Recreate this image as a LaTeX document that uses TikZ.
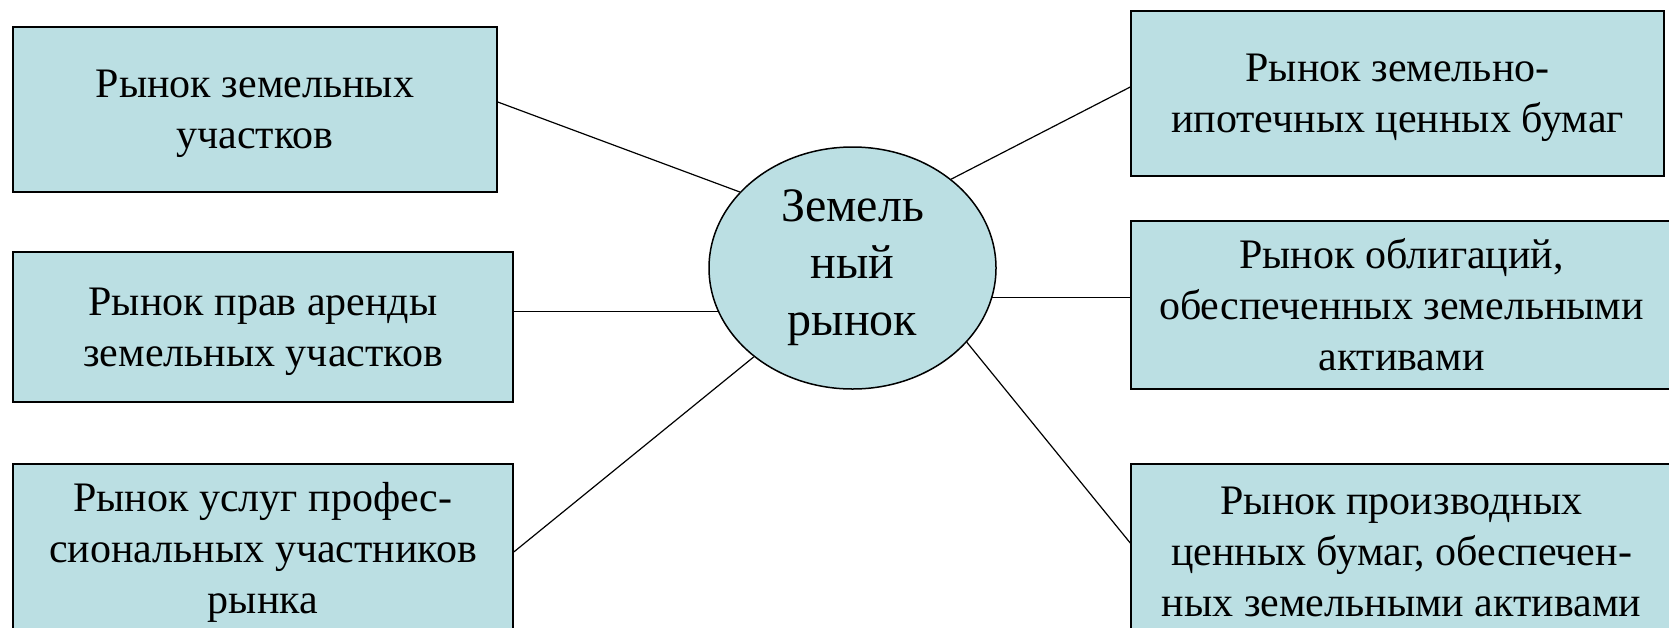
\documentclass[tikz,border=0pt]{standalone}
\usepackage{fontspec}
\setmainfont{Liberation Serif}
\usetikzlibrary{shapes.geometric,positioning}
\definecolor{landfill}{RGB}{187,223,227}

\begin{document}
\begin{tikzpicture}[x=1pt,y=1pt,line width=1.2pt]
  \tikzstyle{market}=[draw=black,fill=landfill,line width=1.5pt,align=center,inner sep=0pt,
                      font=\fontsize{42}{51}\selectfont]
  \tikzstyle{hub}=[ellipse,draw=black,fill=landfill,line width=1.5pt,align=center,inner sep=0pt,
                   minimum width=287pt,minimum height=242pt,font=\fontsize{48}{57}\selectfont]

  \clip (0,0) rectangle (1669,-627);

  \node[hub] (M) at (852.5,-268) {Земель\\ный\\рынок};

  \node[market,minimum width=484pt,minimum height=165pt,text depth=0pt] (A) at (255,-109.5)
       {Рынок земельных\\участков};
  \node[market,minimum width=500pt,minimum height=150pt,text depth=0pt] (B) at (263,-327)
       {Рынок прав аренды\\земельных участков};
  \node[market,minimum width=500pt,minimum height=176pt] (C) at (263,-552)
       {Рынок услуг профес-\\сиональных участников\\рынка};

  \node[market,minimum width=533pt,minimum height=165pt,text depth=0pt] (D) at (1397.5,-93.5)
       {Рынок земельно-\\ипотечных ценных бумаг};
  \node[market,minimum width=541pt,minimum height=168pt] (E) at (1401.5,-305)
       {Рынок облигаций,\\обеспеченных земельными\\активами};
  \node[market,minimum width=541pt,minimum height=176pt] (F) at (1401.5,-552)
       {Рынок производных\\ценных бумаг, обеспечен-\\ных земельными активами};

  \draw ([yshift=7.5pt]A.east) -- (M.146.2);
  \draw (M.198.6) -- (M.198.6 -| B.east);
  \draw (C.east) -- (M.222.4);
  \draw ([yshift=6.5pt]D.west) -- (M.42.8);
  \draw (M.-12.2) -- (M.-12.2 -| E.west);
  \draw ([yshift=9pt]F.west) -- (M.-33.8);
\end{tikzpicture}
\end{document}
